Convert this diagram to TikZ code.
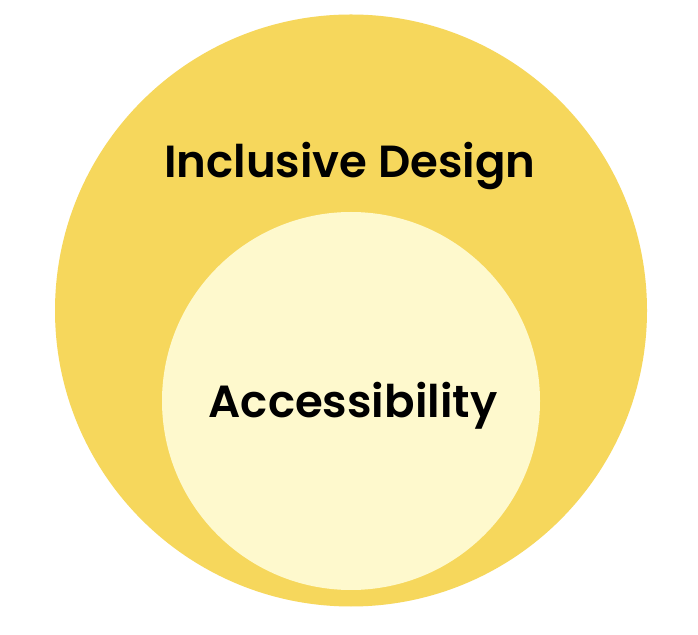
\documentclass[tikz,border=0pt]{standalone}
\usepackage{fontspec}
\setmainfont{Poppins}[BoldFont={Poppins SemiBold}]
\definecolor{outerfill}{HTML}{F6D75C}
\definecolor{innerfill}{HTML}{FEF9CD}
\begin{document}
\begin{tikzpicture}[x=1pt,y=1pt,
  label text/.style={font=\fontsize{45}{50}\selectfont\bfseries, text=black, inner sep=0pt, anchor=base}]
\useasboundingbox (0,0) rectangle (698,634);
\fill[white] (0,0) rectangle (698,634);
\node[circle, fill=outerfill, minimum size=592pt, inner sep=0pt] (outer) at (351,323.5) {};
\node[circle, fill=innerfill, minimum size=378pt, inner sep=0pt] (inner) at (351,233) {};
\node[label text] (incl) at (350,456) {Inclusive Design};
\node[label text] (acc) at (353,216) {Accessibility};
\end{tikzpicture}
\end{document}
